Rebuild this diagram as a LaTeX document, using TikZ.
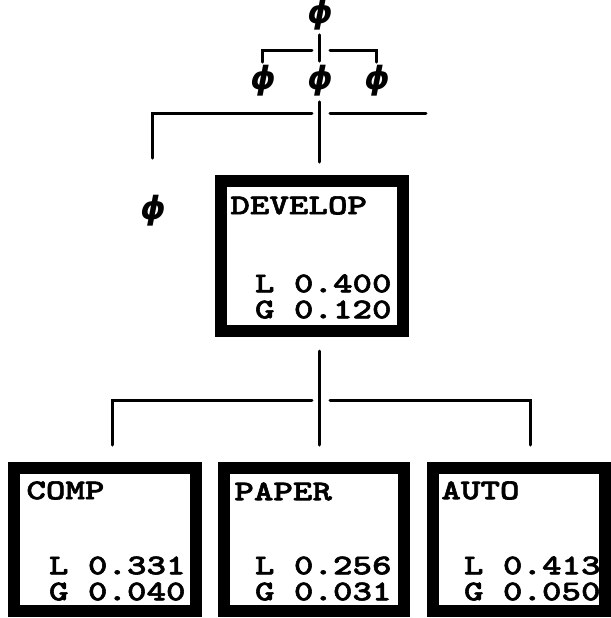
\documentclass[tikz,border=0pt]{standalone}
\usepackage{fontspec}
\usepackage{tikz}
\newfontfamily\boxfont{lmmonolt10-bold.otf}[FakeStretch=1.3, FakeBold=2]
\newfontfamily\phifont{DejaVu Sans}
\usetikzlibrary{
  positioning
}

\tikzset{
  wire/.style={line width=1.5pt, line cap=round},
  pbox/.style={draw, line width=6pt, inner sep=0pt,
    minimum width=91pt, minimum height=71.5pt},
  pname/.style={inner sep=0pt, anchor=north west,
    font=\boxfont\fontsize{14.3}{13}\selectfont},
  pval/.style={inner sep=0pt, anchor=south east, align=right,
    font=\boxfont\fontsize{14.3}{13}\selectfont},
  phinode/.style={inner sep=0pt, font=\phifont\bfseries\itshape\fontsize{16}{16}\selectfont}
}

\begin{document}
\begin{tikzpicture}[x=0.5pt, y=-0.5pt]
  \useasboundingbox (0,0) rectangle (611,618);

  % Phi nodes (empty alternatives)
  \node[phinode] (p0) at (320,15) {ϕ};
  \node[phinode] (pa) at (263,81) {ϕ};
  \node[phinode] (pb) at (320,81) {ϕ};
  \node[phinode] (pc) at (377,81) {ϕ};
  \node[phinode] (pl) at (153,211) {ϕ};

  % Boxes
  \node[pbox, minimum height=75pt] (dev) at (312,256) {};
  \node[pbox] (comp) at (105,539.5) {};
  \node[pbox, minimum width=90pt] (pap) at (314,539.5) {};
  \node[pbox, minimum width=86pt] (auto) at (519,539.5) {};

  % Thick top and bottom bands
  \foreach \b in {dev,comp,pap,auto} {
    \fill (\b.north west) rectangle ([yshift=-6pt]\b.north east);
    \fill (\b.south west) rectangle ([yshift=4.5pt]\b.south east);
  }

  % Box texts
  \node[pname] (devname) at ([xshift=7.5pt,yshift=-10.5pt]dev.north west) {DEVELOP};
  \node[pval] (devval) at ([xshift=-8.5pt,yshift=9pt]dev.south east) {L 0.400\\G 0.120};
  \node[pname] (compname) at ([xshift=9pt,yshift=-9.5pt]comp.north west) {COMP};
  \node[pval] (compval) at ([xshift=-8pt,yshift=8pt]comp.south east) {L 0.331\\G 0.040};
  \node[pname] (papname) at ([xshift=8pt,yshift=-10pt]pap.north west) {PAPER};
  \node[pval] (papval) at ([xshift=-9pt,yshift=8pt]pap.south east) {L 0.256\\G 0.031};
  \node[pname] (autoname) at ([xshift=7pt,yshift=-9.5pt]auto.north west) {AUTO};
  \node[pval] (autoval) at ([xshift=-5pt,yshift=8pt]auto.south east) {L 0.413\\G 0.050};

  % Junction points
  \coordinate (ja) at (312,50);
  \coordinate (jc) at (330,50);
  \coordinate (jl) at (312,113);
  \coordinate (jr) at (330,113);
  \coordinate (rend) at (426,113);
  \coordinate (kl) at (312,400);
  \coordinate (kr) at (330,400);
  \coordinate (ll) at (113,400);
  \coordinate (rr) at (531,400);

  % Top level connectors
  \draw[wire, shorten <=2pt, shorten >=2pt] (pb) -- (p0);
  \draw[wire, shorten <=1.5pt] (pa) |- (ja);
  \draw[wire, shorten <=1.5pt] (pc) |- (jc);

  % Second level connectors
  \draw[wire, shorten <=6.5pt, shorten >=2.5pt] (dev.north -| pb) -- (pb);
  \draw[wire, shorten <=18.5pt] (pl) |- (jl);
  \draw[wire] (jr) -- (rend);

  % Lower connectors
  \draw[wire, shorten <=7pt, shorten >=8.5pt] (dev.south -| pb) -- (pap.north -| pb);
  \draw[wire, shorten >=8.5pt] (kl) -- (ll) -- (ll |- comp.north);
  \draw[wire, shorten >=8.5pt] (kr) -- (rr) -- (rr |- auto.north);
\end{tikzpicture}
\end{document}
